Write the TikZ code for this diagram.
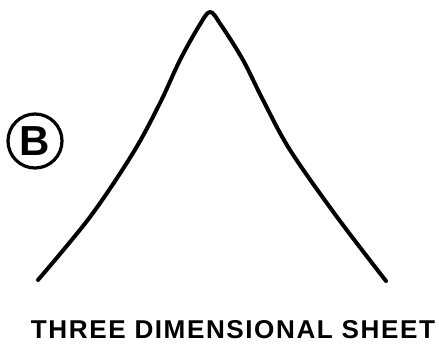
\documentclass[tikz,border=0pt]{standalone}
\usepackage{fontspec}
\setmainfont{Liberation Sans}
\begin{document}
\begin{tikzpicture}[x=1pt,y=-1pt,
  curve/.style={line width=4pt,line cap=round,line join=round},
  label/.style={font=\fontsize{24}{26}\selectfont\bfseries,inner sep=0pt}]
\useasboundingbox (0,0) rectangle (439,359);
\draw[curve] plot[smooth,tension=0.55] coordinates {(38,280) (90,217) (133,153) (160,103) (180,60) (199,26) (210,12) (221,25) (243,60) (263,100) (290,150) (337,217) (386,281)};
\node[circle,draw,line width=3.2pt,minimum size=54pt,inner sep=0pt] (b) at (35,141) {\fontsize{42}{44}\selectfont\bfseries B};
\node[label] (t) at (233,330) {\resizebox{404pt}{18pt}{\addfontfeature{LetterSpace=6}THREE DIMENSIONAL SHEET}};
\end{tikzpicture}
\end{document}
